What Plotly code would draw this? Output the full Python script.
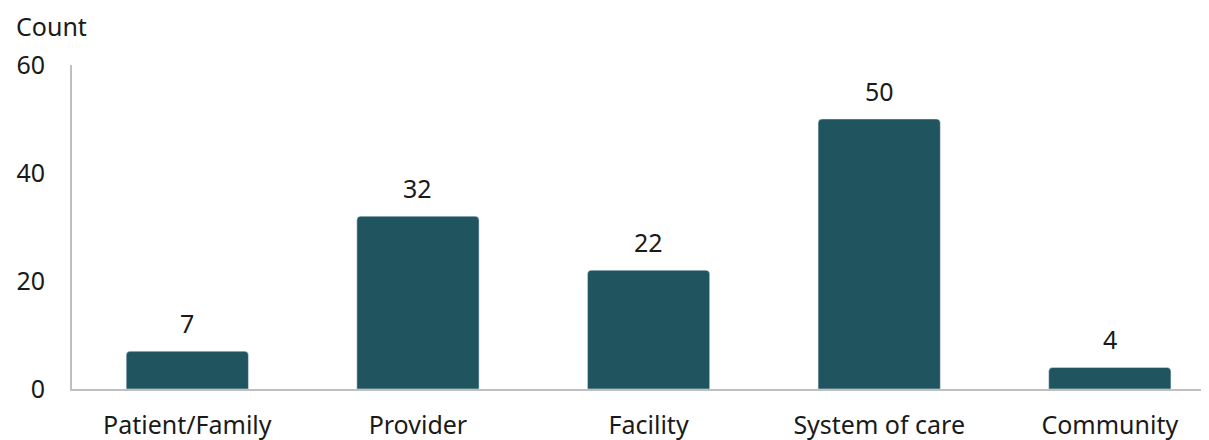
import plotly.graph_objects as go

categories = ["Patient/Family", "Provider", "Facility", "System of care", "Community"]
counts = [7, 32, 22, 50, 4]
y_ticks = [0, 20, 40, 60]

bar_color = "#20555f"
font_family = "Noto Sans, Open Sans, sans-serif"
text_color = "#1a1a1a"

fig = go.Figure()
fig.add_trace(go.Bar(
    x=categories,
    y=counts,
    marker=dict(color=bar_color, cornerradius=4),
))

# value labels above bars
notes = []
for cat, val in zip(categories, counts):
    notes.append(dict(x=cat, y=val, text=str(val), showarrow=False,
                      yanchor="middle", yshift=28,
                      font=dict(size=25, color=text_color)))

notes.append(dict(
    text="Count", xref="paper", yref="paper", x=-0.051, y=1.0,
    xanchor="left", yanchor="middle", yshift=39, showarrow=False,
    font=dict(size=25, color=text_color),
))

# page body has an 8px margin, so the figure is made 8px smaller
fig.update_layout(
    width=1201,
    height=432,
    margin=dict(l=64, r=0, t=57, b=51, autoexpand=False),
    plot_bgcolor="white",
    paper_bgcolor="white",
    font=dict(family=font_family, size=25, color=text_color),
    bargap=0.47,
    showlegend=False,
    xaxis=dict(
        range=[-0.5, 4.43], automargin=False,
        showline=True, linecolor="#bfbfbf", linewidth=2,
        showgrid=False, zeroline=False,
        ticks="outside", ticklen=13, tickcolor="rgba(0,0,0,0)",
    ),
    yaxis=dict(
        range=[0, 60], automargin=False,
        tickvals=y_ticks,
        showline=True, linecolor="#bfbfbf", linewidth=2,
        showgrid=False, zeroline=False,
        ticks="outside", ticklen=20, tickcolor="rgba(0,0,0,0)",
    ),
    annotations=notes,
)

fig.write_html("out.html")
